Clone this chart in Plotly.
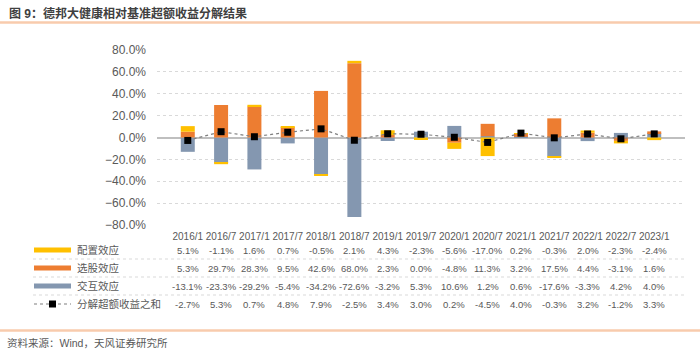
import plotly.graph_objects as go

categories = ["2016/1","2016/7","2017/1","2017/7","2018/1","2018/7","2019/1","2019/7",
              "2020/1","2020/7","2021/1","2021/7","2022/1","2022/7","2023/1"]
alloc = [5.1,-1.1,1.6,0.7,-0.5,2.1,4.3,-2.3,-5.6,-17.0,0.2,-0.3,2.0,-2.3,-2.4]
select = [5.3,29.7,28.3,9.5,42.6,68.0,2.3,0.0,-4.8,11.3,3.2,17.5,4.4,-3.1,1.6]
inter = [-13.1,-23.3,-29.2,-5.4,-34.2,-72.6,-3.2,5.3,10.6,1.2,0.6,-17.6,-3.3,4.2,4.0]
total = [-2.7,5.3,0.7,4.8,7.9,-2.5,3.4,3.0,0.2,-4.5,4.0,-0.3,3.2,-1.2,3.3]
names = ["配置效应", "选股效应", "交互效应", "分解超额收益之和"]
colors = {"配置效应": "#FFC000", "选股效应": "#ED7D31", "交互效应": "#8497B0"}

W, H = 700, 353
L, R, T, B = 157, 685, 50, 225
def px(x): return (x - L) / (R - L)
def py(y): return (B - y) / (B - T)

FONT = "Liberation Sans, Noto Sans CJK SC, sans-serif"
GRAY = "#595959"

fig = go.Figure()
# stacking order matching the reference
for name, vals in [("交互效应", inter), ("选股效应", select), ("配置效应", alloc)]:
    fig.add_trace(go.Bar(x=categories, y=[v / 100 for v in vals], name=name,
                         marker=dict(color=colors[name], line=dict(width=0)),
                         showlegend=False))
fig.add_trace(go.Scatter(x=categories, y=[v / 100 for v in total], name=names[3],
                         mode="lines+markers",
                         line=dict(color="#7F7F7F", width=1.2, dash="dot"),
                         marker=dict(symbol="square", size=7, color="#000000"),
                         showlegend=False))

ann = []
shapes = []
# title
ann.append(dict(text="<b>图 9：德邦大健康相对基准超额收益分解结果</b>", xref="paper", yref="paper",
                x=px(7), y=py(14), xanchor="left", yanchor="middle", showarrow=False,
                font=dict(size=12, color="#404040", family=FONT)))
ann.append(dict(text="资料来源：Wind，天风证券研究所", xref="paper", yref="paper",
                x=px(5), y=py(343), xanchor="left", yanchor="middle", showarrow=False,
                font=dict(size=10.5, color=GRAY, family=FONT)))
for yy in (22.5, 330.5):
    shapes.append(dict(type="line", xref="paper", yref="paper", x0=px(0), x1=px(W),
                       y0=py(yy), y1=py(yy), line=dict(color="#F8CBAD", width=2.5)))

# data table
row_y = [250, 268, 286, 304]
row_vals = [alloc, select, inter, total]
for i, (nm, vals, yy) in enumerate(zip(names, row_vals, row_y)):
    for c, v in zip(categories, vals):
        ann.append(dict(text=f"{v:.1f}%", xref="x", yref="paper", x=c, y=py(yy),
                        xanchor="center", yanchor="middle", showarrow=False,
                        font=dict(size=9.5, color=GRAY, family=FONT)))
    ann.append(dict(text=nm, xref="paper", yref="paper", x=px(75), y=py(yy),
                    xanchor="left", yanchor="middle", showarrow=False,
                    font=dict(size=10.5, color=GRAY, family=FONT)))
    if i < 3:
        shapes.append(dict(type="rect", xref="paper", yref="paper", x0=px(34), x1=px(71),
                           y0=py(yy - 2.5), y1=py(yy + 2.5),
                           fillcolor=colors[nm], line=dict(width=0)))
    else:
        shapes.append(dict(type="line", xref="paper", yref="paper", x0=px(34), x1=px(71),
                           y0=py(yy), y1=py(yy), line=dict(color="#7F7F7F", width=1.2, dash="dot")))
        shapes.append(dict(type="rect", xref="paper", yref="paper", x0=px(49), x1=px(56),
                           y0=py(yy - 3.5), y1=py(yy + 3.5),
                           fillcolor="#000000", line=dict(width=0)))
for yy in (259, 277, 295):
    shapes.append(dict(type="line", xref="paper", yref="paper", x0=px(33), x1=px(685),
                       y0=py(yy), y1=py(yy), line=dict(color="#D9D9D9", width=1, dash="dot")))

fig.update_layout(
    width=W, height=H, barmode="relative", bargap=0.58,
    margin=dict(l=L, r=W - R, t=T, b=H - B),
    plot_bgcolor="white", paper_bgcolor="white",
    annotations=ann, shapes=shapes,
    font=dict(family=FONT, color=GRAY),
)
fig.update_xaxes(type="category", showgrid=False, showline=False, ticks="",
                 tickangle=0, tickfont=dict(size=10, color=GRAY), ticklabelstandoff=4)
fig.update_yaxes(range=[-0.8, 0.8], dtick=0.2, tickformat=".1%",
                 showgrid=True, gridcolor="#D9D9D9", griddash="dot", gridwidth=1,
                 zeroline=True, zerolinecolor="#BFBFBF", zerolinewidth=1.5,
                 showline=False, ticks="", tickfont=dict(size=12, color=GRAY),
                 ticklabelstandoff=10)
fig.write_html("out.html")
